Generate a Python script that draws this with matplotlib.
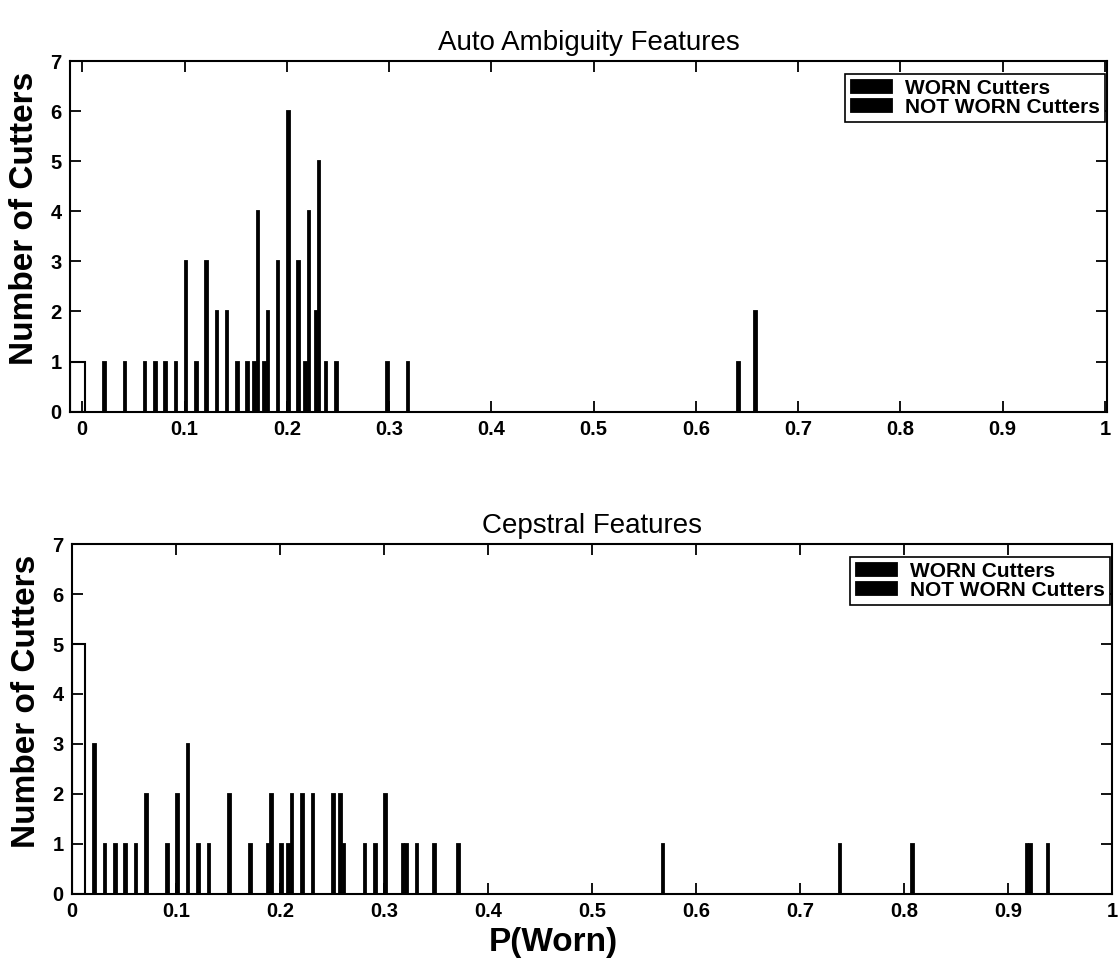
import numpy as np
import matplotlib
matplotlib.use('Agg')
import matplotlib.pyplot as plt

plt.rcParams['font.family'] = ['Liberation Sans', 'DejaVu Sans']

bins = np.arange(101) / 100.0

# Auto Ambiguity Features
top_worn_p = [0.17, 0.18, 0.22, 0.23, 0.24, 0.25, 0.30, 0.32, 0.66]
top_worn_n = [1, 1, 1, 2, 1, 1, 1, 1, 2]
top_notworn_p = [0.02, 0.04, 0.06, 0.07, 0.08, 0.09, 0.10, 0.11, 0.12, 0.13,
                 0.14, 0.15, 0.16, 0.17, 0.18, 0.19, 0.20, 0.21, 0.22, 0.23, 0.64]
top_notworn_n = [1, 1, 1, 1, 1, 1, 3, 1, 3, 2, 2, 1, 1, 4, 2, 3, 6, 3, 4, 5, 1]
top_first_p, top_first_n = 0.00, 1

# Cepstral Features
bot_worn_p = [0.19, 0.21, 0.26, 0.32, 0.35, 0.57, 0.74, 0.81, 0.92, 0.94]
bot_worn_n = [1, 1, 2, 1, 1, 1, 1, 1, 1, 1]
bot_notworn_p = [0.02, 0.03, 0.04, 0.05, 0.06, 0.07, 0.09, 0.10, 0.11, 0.12,
                 0.13, 0.15, 0.17, 0.19, 0.20, 0.21, 0.22, 0.23, 0.25, 0.26,
                 0.28, 0.29, 0.30, 0.32, 0.33, 0.37, 0.92]
bot_notworn_n = [3, 1, 1, 1, 1, 2, 1, 2, 3, 1, 1, 2, 1, 2, 1, 2, 2, 2, 2, 1,
                 1, 1, 2, 1, 1, 1, 1]
bot_first_p, bot_first_n = 0.01, 5

titles = ['Auto Ambiguity Features', 'Cepstral Features']
legend_labels = ['WORN Cutters', 'NOT WORN Cutters']


def counts(pos, n):
    h = np.zeros(len(bins))
    idx = np.rint(np.array(pos) * 100).astype(int)
    h[idx] = n
    return h


fig = plt.figure(figsize=(11.18, 9.73), dpi=100)
ax1 = fig.add_axes([0.0626, 0.5769, 0.9275, 0.3604])
ax2 = fig.add_axes([0.0644, 0.0812, 0.9302, 0.3597])

panels = [
    (ax1, top_worn_p, top_worn_n, top_notworn_p, top_notworn_n, top_first_p, top_first_n, (-0.012, 1.002)),
    (ax2, bot_worn_p, bot_worn_n, bot_notworn_p, bot_notworn_n, bot_first_p, bot_first_n, (0.0, 1.0)),
]

w = 0.0024
off = 0.0016
for i, (ax, wp, wn, np_, nn, fp, fn, xl) in enumerate(panels):
    ax.bar(bins - off, counts(wp, wn), width=w, color='black', edgecolor='black',
           linewidth=1.3, label=legend_labels[0])
    ax.bar(bins + off, counts(np_, nn), width=w, color='black', edgecolor='black',
           linewidth=1.3, label=legend_labels[1])
    # first bin drawn as an open box reaching the left axis edge
    right = fp + off + w / 2
    ax.bar(xl[0], fn, width=right - xl[0], align='edge', fill=False,
           edgecolor='black', linewidth=1.5)

    ax.set_xlim(*xl)
    ax.set_ylim(0, 7)
    ax.set_xticks(np.arange(0, 1.01, 0.1))
    ax.set_xticklabels(['0', '0.1', '0.2', '0.3', '0.4', '0.5', '0.6', '0.7', '0.8', '0.9', '1'])
    ax.set_yticks(range(8))
    ax.tick_params(direction='in', length=8, width=1.3, top=True, right=True,
                   labelsize=14.5, pad=6)
    for lab in ax.get_xticklabels() + ax.get_yticklabels():
        lab.set_fontweight('bold')
    for s in ax.spines.values():
        s.set_linewidth(1.5)
    ax.set_title(titles[i], fontsize=20, pad=8)
    ax.set_ylabel('Number of Cutters', fontsize=24, fontweight='bold')
    ax.yaxis.set_label_coords(-0.029, 0.55)
    ax.legend(loc='upper right', bbox_to_anchor=(0.998, 0.963), borderaxespad=0,
              prop={'weight': 'bold', 'size': 15}, frameon=True, fancybox=False,
              edgecolor='black', framealpha=1, handlelength=2.0, handleheight=0.6,
              handletextpad=0.6, labelspacing=0.0, borderpad=0.25)
    ax.get_legend().get_frame().set_linewidth(1.2)

ax2.set_xlabel('P(Worn)', fontsize=24, fontweight='bold')
ax2.xaxis.set_label_coords(0.463, -0.095)

fig.savefig('out.png', dpi=100)
